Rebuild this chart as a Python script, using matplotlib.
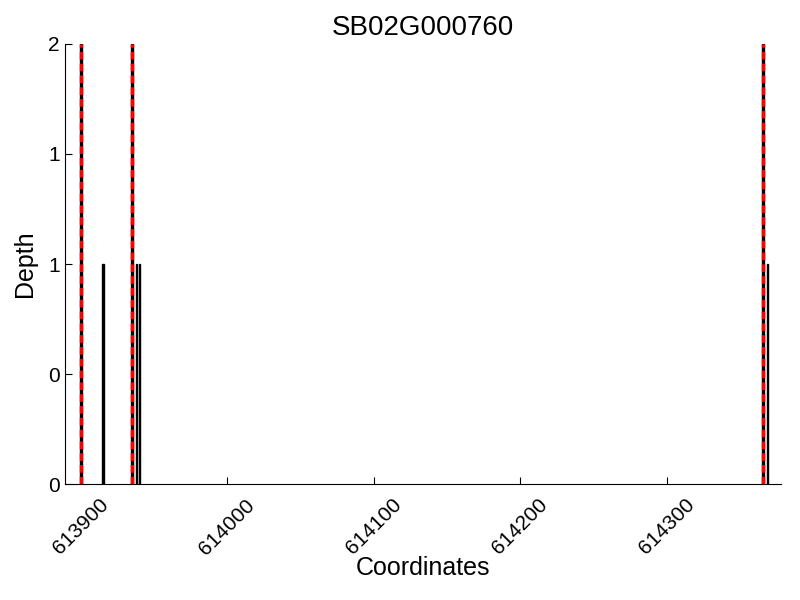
import matplotlib
matplotlib.use("Agg")
import matplotlib.pyplot as plt
from matplotlib.ticker import FormatStrFormatter

plt.rcParams['font.family'] = ['Liberation Sans', 'DejaVu Sans']

# per-base depth
coords = [613900, 613915, 613935, 613938, 613940, 614366, 614369]
depth = [2, 1, 2, 1, 1, 2, 1]
# exon boundaries
boundaries = [613900, 613935, 614366]

fig = plt.figure(figsize=(8, 6), dpi=100)
ax = fig.add_axes([0.081, 0.193, 0.895, 0.734])

ax.bar(coords, depth, width=1, color='black', edgecolor='black', linewidth=1)
for b in boundaries:
    ax.axvline(b, color='red', linestyle=(0, (2.2, 1.2)), linewidth=2.5)

ax.set_xlim(613889, 614378)
ax.set_ylim(0, 2)
ax.set_yticks([0, 0.5, 1, 1.5, 2])
ax.yaxis.set_major_formatter(FormatStrFormatter('%d'))
ax.set_xticks([613900, 614000, 614100, 614200, 614300])

ax.spines['top'].set_visible(False)
ax.spines['right'].set_visible(False)
ax.tick_params(direction='in', length=5, labelsize=15)
ax.tick_params(axis='x', pad=8)
plt.setp(ax.get_xticklabels(), rotation=45, ha='center')

ax.set_title('SB02G000760', fontsize=20)
ax.set_xlabel('Coordinates', fontsize=18, labelpad=-2)
ax.set_ylabel('Depth', fontsize=18, labelpad=8)

fig.savefig('out.png')
